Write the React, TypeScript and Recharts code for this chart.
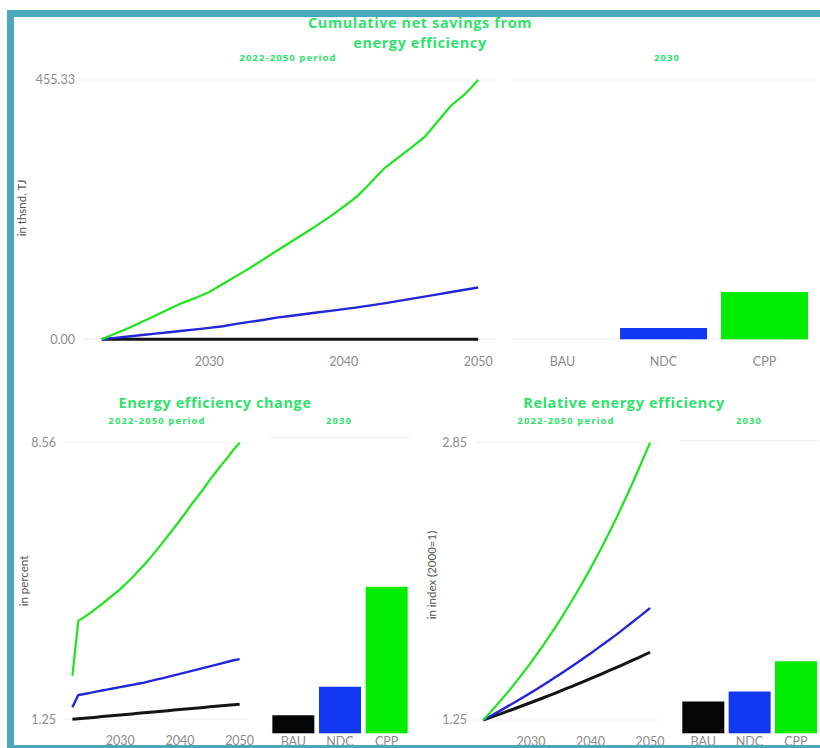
import React from 'react';
import { LineChart, Line, BarChart, Bar, XAxis, YAxis, CartesianGrid, Cell } from 'recharts';

// Years of the projection period
const YEARS = [
  2022, 2023, 2024, 2025, 2026, 2027, 2028, 2029, 2030, 2031, 2032, 2033, 2034, 2035, 2036,
  2037, 2038, 2039, 2040, 2041, 2042, 2043, 2044, 2045, 2046, 2047, 2048, 2049, 2050,
];
const SCENARIOS = ['BAU', 'NDC', 'CPP'];
const BAR_YEAR = 2030;

// Cumulative net savings, thousand TJ
const savingsBAU = [0, 0, 0, 0, 0, 0, 0, 0, 0, 0, 0, 0, 0, 0, 0, 0, 0, 0, 0, 0, 0, 0, 0, 0, 0, 0, 0, 0, 0];
const savingsNDC = [0, 2.5, 5, 7.5, 10, 12.5, 15, 17.5, 20, 23, 27, 30.5, 34, 38, 41, 44, 47, 50, 53, 56, 59.5, 63, 67, 71, 75, 79, 83, 87, 91];
const savingsCPP = [0, 10, 20, 31, 42, 53, 64, 73, 83, 97, 111, 125, 140, 155, 170, 185, 200, 216, 233, 251, 275, 300, 318, 336, 355, 383, 411, 430, 455.33];

// Energy efficiency change, percent
const changeBAU = [1.25, 1.264, 1.279, 1.293, 1.307, 1.321, 1.336, 1.35, 1.364, 1.379, 1.393, 1.407, 1.421, 1.436, 1.45, 1.464, 1.479, 1.493, 1.507, 1.521, 1.536, 1.55, 1.564, 1.579, 1.593, 1.607, 1.621, 1.636, 1.65];
const changeNDC = [1.57, 1.89, 1.92, 1.95, 1.98, 2.01, 2.04, 2.07, 2.1, 2.13, 2.16, 2.19, 2.22, 2.26, 2.3, 2.33, 2.37, 2.41, 2.45, 2.49, 2.53, 2.57, 2.61, 2.65, 2.69, 2.73, 2.77, 2.81, 2.84];
const changeCPP = [2.4, 3.85, 3.95, 4.06, 4.18, 4.3, 4.43, 4.56, 4.69, 4.84, 4.99, 5.16, 5.33, 5.51, 5.7, 5.9, 6.1, 6.3, 6.51, 6.72, 6.94, 7.14, 7.35, 7.58, 7.78, 7.98, 8.17, 8.38, 8.56];

// Relative energy efficiency, index (2000=1)
const relBAU = [1.25, 1.262, 1.275, 1.287, 1.3, 1.312, 1.325, 1.338, 1.351, 1.364, 1.377, 1.391, 1.404, 1.418, 1.432, 1.446, 1.46, 1.474, 1.489, 1.503, 1.518, 1.533, 1.548, 1.563, 1.578, 1.594, 1.609, 1.625, 1.641];
const relNDC = [1.25, 1.269, 1.288, 1.307, 1.327, 1.347, 1.367, 1.387, 1.408, 1.429, 1.451, 1.472, 1.495, 1.517, 1.54, 1.563, 1.586, 1.61, 1.634, 1.659, 1.684, 1.709, 1.734, 1.76, 1.787, 1.814, 1.841, 1.868, 1.896];
const relCPP = [1.25, 1.287, 1.326, 1.366, 1.406, 1.448, 1.492, 1.536, 1.582, 1.63, 1.678, 1.729, 1.78, 1.834, 1.889, 1.945, 2.003, 2.063, 2.125, 2.189, 2.254, 2.322, 2.391, 2.463, 2.537, 2.613, 2.691, 2.771, 2.85];

const YEAR_TICKS = [2030, 2040, 2050];

const LINE_COLORS: Record<string, string> = { BAU: '#141414', NDC: '#2326d8', CPP: '#1ee41e' };
const BAR_COLORS: Record<string, string> = { BAU: '#050505', NDC: '#1238f4', CPP: '#00ec00' };
const LINE_WIDTHS: Record<string, number> = { BAU: 3, NDC: 2.4, CPP: 2.2 };

const GREEN_TEXT = '#2ee26c';
const TICK_COLOR = '#8c8c8c';
const FONT = 'Lato, "Noto Sans", sans-serif';
const TITLE_FONT = '"Open Sans", "Noto Sans", sans-serif';

function toRows(bau: number[], ndc: number[], cpp: number[]) {
  return YEARS.map((year, i) => ({ year, BAU: bau[i], NDC: ndc[i], CPP: cpp[i] }));
}

function barRows(bau: number[], ndc: number[], cpp: number[]) {
  const i = YEARS.indexOf(BAR_YEAR);
  const vals = [bau[i], ndc[i], cpp[i]];
  return SCENARIOS.map((name, k) => ({ name, value: vals[k] }));
}

const tickStyle = { fill: TICK_COLOR, fontSize: 12.5, fontFamily: FONT };

type LinePanelProps = {
  left: number; top: number; width: number; height: number;
  margin: { top: number; right: number; bottom: number; left: number };
  yWidth: number; xHeight: number; xTickMargin: number;
  data: any[]; yDomain: [number, number]; yTicks: number[];
};

function LinePanel(p: LinePanelProps) {
  return (
    <div style={{ position: 'absolute', left: p.left, top: p.top }}>
      <LineChart width={p.width} height={p.height} data={p.data} margin={p.margin}>
        <CartesianGrid vertical={false} stroke="#efefef" />
        <XAxis
          dataKey="year" type="number" domain={[2020.6, 2051.4]} ticks={YEAR_TICKS}
          axisLine={false} tickLine={false} tickMargin={p.xTickMargin} height={p.xHeight} tick={tickStyle}
        />
        <YAxis
          type="number" domain={p.yDomain} ticks={p.yTicks} width={p.yWidth}
          axisLine={false} tickLine={false} tick={tickStyle}
          tickFormatter={(v: number) => v.toFixed(2)}
        />
        {SCENARIOS.map((s) => (
          <Line
            key={s} type="linear" dataKey={s} stroke={LINE_COLORS[s]} strokeWidth={LINE_WIDTHS[s]}
            dot={false} isAnimationActive={false}
          />
        ))}
      </LineChart>
    </div>
  );
}

type BarPanelProps = {
  left: number; top: number; width: number; height: number;
  margin: { top: number; right: number; bottom: number; left: number };
  xHeight: number; tickMargin: number;
  data: any[]; yDomain: [number, number]; gridTicks: number[]; gap: string;
};

function BarPanel(p: BarPanelProps) {
  return (
    <div style={{ position: 'absolute', left: p.left, top: p.top }}>
      <BarChart width={p.width} height={p.height} data={p.data} margin={p.margin} barCategoryGap={p.gap}>
        <CartesianGrid vertical={false} stroke="#efefef" />
        <XAxis
          dataKey="name" axisLine={false} tickLine={false} height={p.xHeight}
          tickMargin={p.tickMargin} tick={tickStyle} interval={0}
        />
        <YAxis
          type="number" domain={p.yDomain} ticks={p.gridTicks} width={0}
          axisLine={false} tickLine={false} tick={false}
        />
        <Bar dataKey="value" isAnimationActive={false}>
          {p.data.map((d: any) => (
            <Cell key={d.name} fill={BAR_COLORS[d.name]} />
          ))}
        </Bar>
      </BarChart>
    </div>
  );
}

function Txt(props: {
  x: number; y: number; size: number; color: string; weight?: number; font?: string;
  rotate?: boolean; spacing?: number; lh?: number; children: React.ReactNode;
}) {
  return (
    <div
      style={{
        position: 'absolute', left: props.x, top: props.y,
        transform: `translate(-50%, -50%)${props.rotate ? ' rotate(-90deg)' : ''}`,
        fontSize: props.size, color: props.color, fontWeight: props.weight ?? 400,
        fontFamily: props.font ?? FONT, whiteSpace: 'nowrap', textAlign: 'center',
        letterSpacing: props.spacing ?? 0,
        lineHeight: props.lh ? `${props.lh}px` : 1.1,
      }}
    >
      {props.children}
    </div>
  );
}

const TITLE_SIZE = 14.5;
const TITLE_SPACING = 0.6;
const SUB_SIZE = 9.5;
const SUB_SPACING = 1.1;

export default function App() {
  const savingsRows = toRows(savingsBAU, savingsNDC, savingsCPP);
  const changeRows = toRows(changeBAU, changeNDC, changeCPP);
  const relRows = toRows(relBAU, relNDC, relCPP);

  return (
    <div style={{ position: 'absolute', left: 0, top: 0, width: 820, height: 748, background: '#fff', overflow: 'hidden' }}>
      {/* Cumulative net savings: trajectory and 2030 snapshot */}
      <LinePanel
        left={0} top={0} width={505} height={380}
        margin={{ top: 80, right: 8, bottom: 0, left: 0 }}
        yWidth={83} xHeight={40.7} xTickMargin={12}
        data={savingsRows} yDomain={[0, 455.33]} yTicks={[0, 455.33]}
      />
      <BarPanel
        left={505} top={0} width={315} height={380}
        margin={{ top: 80, right: 5, bottom: 0, left: 7 }}
        xHeight={40.7} tickMargin={12}
        data={barRows(savingsBAU, savingsNDC, savingsCPP)} yDomain={[0, 455.33]}
        gridTicks={[0, 100, 200, 300, 400]} gap="7%"
      />

      {/* Energy efficiency change */}
      <LinePanel
        left={0} top={380} width={262} height={368}
        margin={{ top: 62.7, right: 14, bottom: 0, left: 0 }}
        yWidth={64} xHeight={28.7} xTickMargin={11}
        data={changeRows} yDomain={[1.25, 8.56]} yTicks={[1.25, 8.56]}
      />
      <BarPanel
        left={262} top={380} width={156} height={368}
        margin={{ top: 57.6, right: 8, bottom: 0, left: 8 }}
        xHeight={14.7} tickMargin={-2}
        data={barRows(changeBAU, changeNDC, changeCPP)} yDomain={[0.893, 8.56]}
        gridTicks={[2, 4, 6, 8]} gap="5%"
      />

      {/* Relative energy efficiency */}
      <LinePanel
        left={400} top={380} width={272} height={368}
        margin={{ top: 62.7, right: 13.6, bottom: 0, left: 0 }}
        yWidth={75} xHeight={28} xTickMargin={11}
        data={relRows} yDomain={[1.25, 2.85]} yTicks={[1.25, 2.85]}
      />
      <BarPanel
        left={672} top={380} width={148} height={368}
        margin={{ top: 60.6, right: 1, bottom: 0, left: 8 }}
        xHeight={14.7} tickMargin={-2}
        data={barRows(relBAU, relNDC, relCPP)} yDomain={[1.168, 2.85]}
        gridTicks={[1.6, 2.0, 2.4, 2.8]} gap="5%"
      />

      {/* Titles */}
      <Txt x={420} y={33} size={TITLE_SIZE} color={GREEN_TEXT} weight={700} font={TITLE_FONT} spacing={TITLE_SPACING} lh={20}>
        Cumulative net savings from<br />energy efficiency
      </Txt>
      <Txt x={288} y={58} size={SUB_SIZE} color={GREEN_TEXT} weight={700} font={TITLE_FONT} spacing={SUB_SPACING}>2022-2050 period</Txt>
      <Txt x={667} y={58} size={SUB_SIZE} color={GREEN_TEXT} weight={700} font={TITLE_FONT} spacing={SUB_SPACING}>2030</Txt>

      <Txt x={215} y={403} size={TITLE_SIZE} color={GREEN_TEXT} weight={700} font={TITLE_FONT} spacing={TITLE_SPACING}>Energy efficiency change</Txt>
      <Txt x={157} y={421} size={SUB_SIZE} color={GREEN_TEXT} weight={700} font={TITLE_FONT} spacing={SUB_SPACING}>2022-2050 period</Txt>
      <Txt x={339} y={421} size={SUB_SIZE} color={GREEN_TEXT} weight={700} font={TITLE_FONT} spacing={SUB_SPACING}>2030</Txt>

      <Txt x={624} y={403} size={TITLE_SIZE} color={GREEN_TEXT} weight={700} font={TITLE_FONT} spacing={TITLE_SPACING}>Relative energy efficiency</Txt>
      <Txt x={566} y={421} size={SUB_SIZE} color={GREEN_TEXT} weight={700} font={TITLE_FONT} spacing={SUB_SPACING}>2022-2050 period</Txt>
      <Txt x={749} y={421} size={SUB_SIZE} color={GREEN_TEXT} weight={700} font={TITLE_FONT} spacing={SUB_SPACING}>2030</Txt>

      {/* Axis titles */}
      <Txt x={22} y={208} size={11.5} color="#555" rotate>in thsnd. TJ</Txt>
      <Txt x={24} y={581} size={11.5} color="#555" rotate>in percent</Txt>
      <Txt x={432} y={575} size={11.5} color="#555" rotate>in index (2000=1)</Txt>

      {/* Frame */}
      <div style={{ position: 'absolute', left: 7, top: 10, width: 813, height: 7, background: '#4aa8bd' }} />
      <div style={{ position: 'absolute', left: 7, top: 10, width: 7, height: 738, background: '#4aa8bd' }} />
      <div style={{ position: 'absolute', left: 7, top: 745, width: 813, height: 3, background: '#4aa8bd' }} />
    </div>
  );
}
